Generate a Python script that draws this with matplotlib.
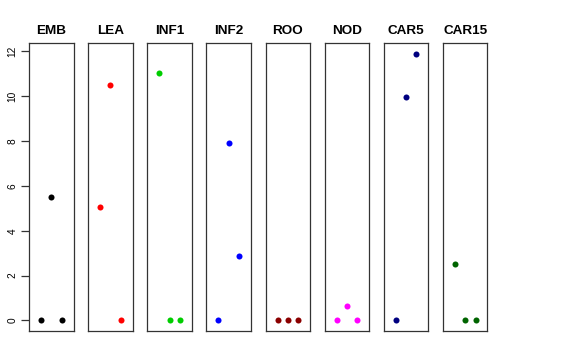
import matplotlib
matplotlib.use("Agg")
import matplotlib.pyplot as plt

plt.rcParams['font.family'] = ['Liberation Sans', 'DejaVu Sans']

# panel names, colours and the three values per panel
tissues = ['EMB', 'LEA', 'INF1', 'INF2', 'ROO', 'NOD', 'CAR5', 'CAR15']
colors = ['black', 'red', '#00CD00', 'blue', '#8B0000', 'magenta', '#000080', '#006400']
positions = [1, 2, 3]
values = [
    [0, 5.5, 0],
    [5.07, 10.5, 0],
    [11.02, 0, 0],
    [0, 7.93, 2.85],
    [0, 0, 0],
    [0, 0.65, 0],
    [0, 9.96, 11.9],
    [2.51, 0, 0],
]
yticks = [0, 2, 4, 6, 8, 10, 12]

W, H = 576, 360
fig = plt.figure(figsize=(W / 100, H / 100), dpi=100)

left0 = 29
step = 59.14
width = 44.5
bottom = 29
height = 288

for i, (name, col, vals) in enumerate(zip(tissues, colors, values)):
    ax = fig.add_axes([(left0 + step * i) / W, bottom / H, width / W, height / H])
    ax.scatter(positions, vals, s=19, color=col, linewidths=0, zorder=3)
    ax.set_xlim(-0.16, 4.16)
    ax.set_ylim(-0.476, 12.376)
    ax.set_xticks([])
    for sp in ax.spines.values():
        sp.set_color('#333333')
        sp.set_linewidth(0.9)
    ax.set_title(name, fontsize=9.7, fontweight='bold', pad=6.5)
    if i == 0:
        ax.set_yticks(yticks)
        ax.set_yticklabels([str(t) for t in yticks], rotation=90, va='center', fontsize=7.3)
        ax.tick_params(axis='y', length=5.8, width=0.9, color='#333333', pad=2.5)
    else:
        ax.set_yticks([])

fig.savefig('out.png', dpi=100)
